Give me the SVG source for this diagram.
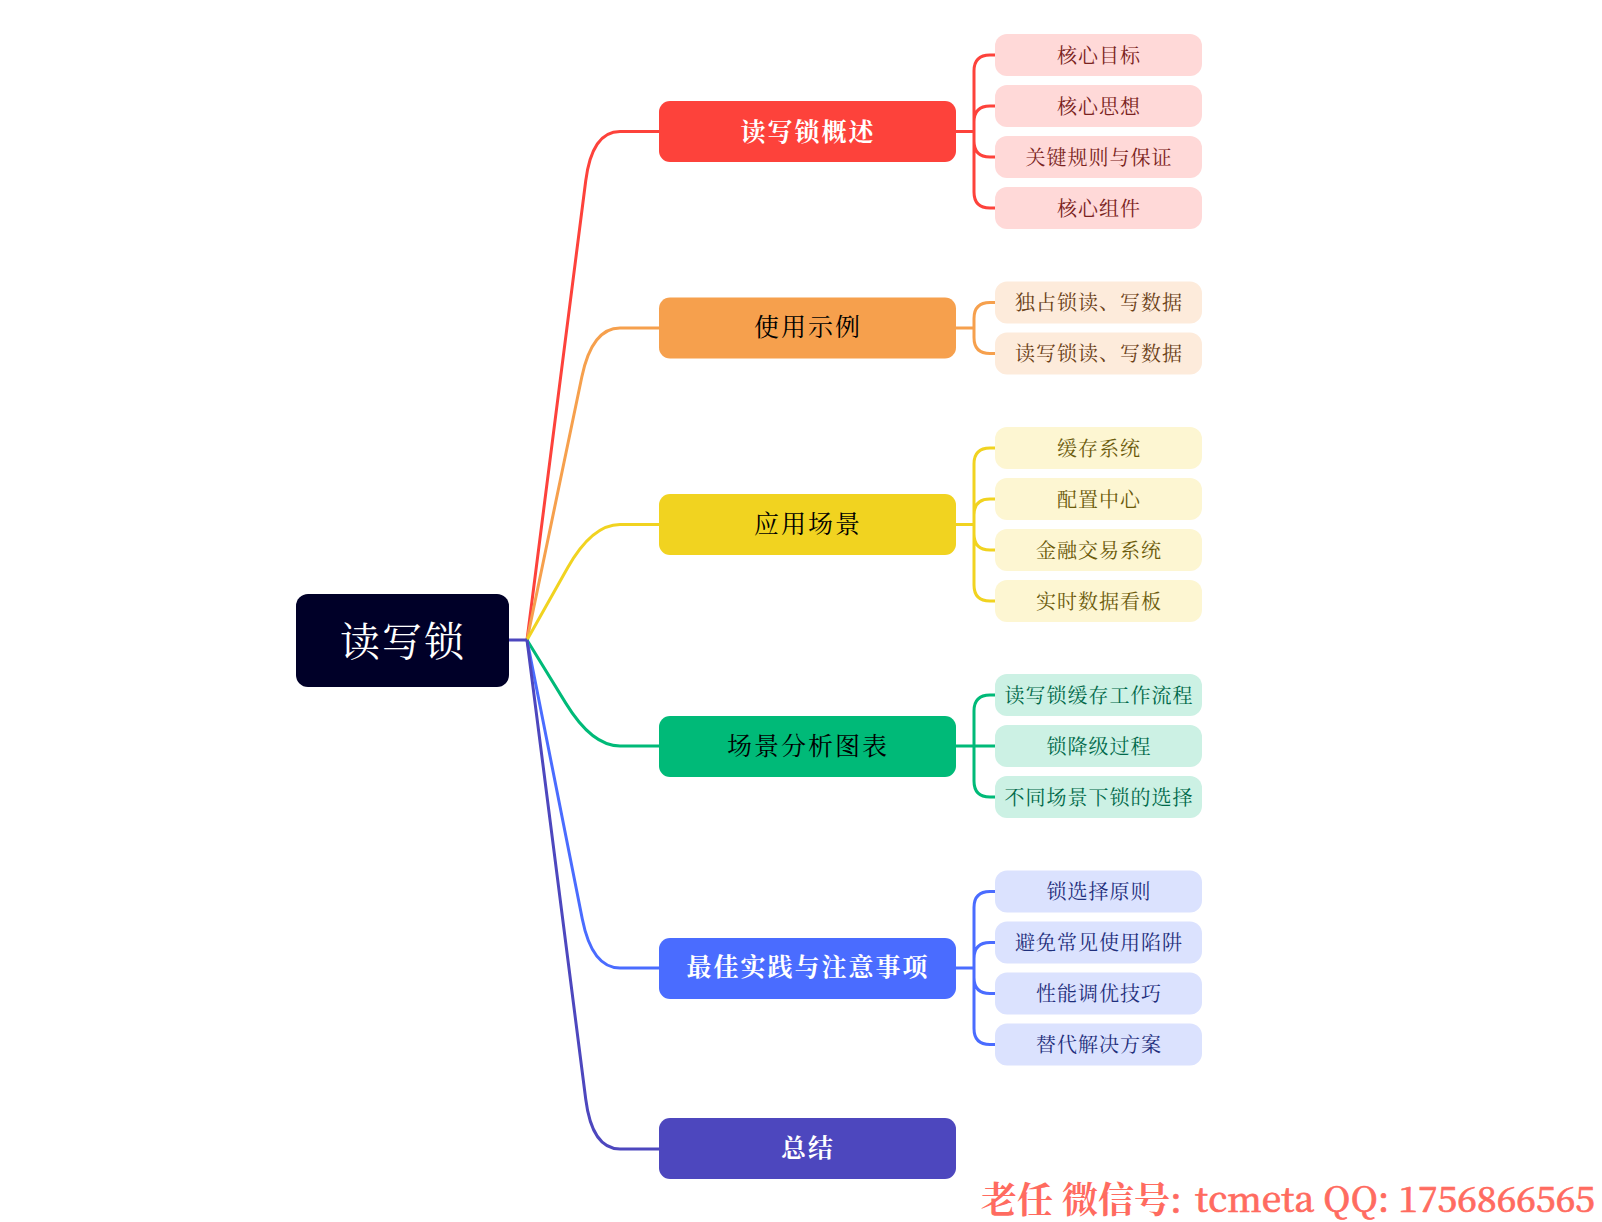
<svg xmlns="http://www.w3.org/2000/svg" width="1602" height="1222" viewBox="0 0 1602 1222">
<style>
text{font-family:"Noto Serif CJK SC","Liberation Serif",serif;text-anchor:middle;dominant-baseline:central}
.c{fill:none;stroke-width:3;stroke-linecap:butt}
.m{font-size:25px;letter-spacing:2px}
.l{font-size:20px;letter-spacing:1px}
.r1{fill:#fd423b}.r2{fill:#f6a04d}.r3{fill:#f1d320}.r4{fill:#00ba78}.r5{fill:#4a6cff}.r6{fill:#4d47be}
.s1{stroke:#fd423b}.s2{stroke:#f6a04d}.s3{stroke:#f1d320}.s4{stroke:#00ba78}.s5{stroke:#4a6cff}.s6{stroke:#4d47be}
.f1{fill:#ffd9d8}.f2{fill:#fdebdb}.f3{fill:#fdf6d2}.f4{fill:#ccf1e4}.f5{fill:#dbe2fe}
.t1{fill:#7a2320}.t2{fill:#6a4016}.t3{fill:#6b5a0a}.t4{fill:#00694a}.t5{fill:#1f2f7c}
.w{fill:#fff;font-weight:bold}.b{fill:#000}
</style>
<rect width="1602" height="1222" fill="#fff"/>
<g id="connectors">
<path class="c s1" d="M527 640L585.700 181Q592 131.500 620 131.500H659"/>
<path class="c s2" d="M527 640L581.800 377Q592 328 620 328H659"/>
<path class="c s3" d="M527 640L567.500 568Q592 524.500 620 524.500H659"/>
<path class="c s4" d="M527 640L565.900 703.400Q592 746 620 746H659"/>
<path class="c s5" d="M527 640L582.300 919Q592 968 620 968H659"/>
<path class="c s6" d="M527 640L585.700 1099Q592 1149 620 1149H659"/>
<path class="c s6" d="M509 640H527"/>
<path class="c s1" d="M956 131.500H974M995 55H990Q974 55 974 71V192Q974 208 990 208H995M995 106H990Q974 106 974 122V141Q974 157 990 157H995"/>
<path class="c s2" d="M956 328H974M995 302.500H990Q974 302.500 974 318.500V337.500Q974 353.500 990 353.500H995"/>
<path class="c s3" d="M956 524.500H974M995 448H990Q974 448 974 464V585Q974 601 990 601H995M995 499H990Q974 499 974 515V534Q974 550 990 550H995"/>
<path class="c s4" d="M956 746H995M995 695H990Q974 695 974 711V781Q974 797 990 797H995"/>
<path class="c s5" d="M956 968H974M995 891.500H990Q974 891.500 974 907.500V1028.500Q974 1044.500 990 1044.500H995M995 942.500H990Q974 942.500 974 958.500V977.500Q974 993.500 990 993.500H995"/>
</g>
<g id="root"><rect x="296" y="594" width="213" height="93" rx="12" fill="#000028"/><text x="403" y="638" font-size="40" letter-spacing="2" fill="#fff">读写锁</text></g>
<g id="n1"><rect class="r1" x="659" y="101" width="297" height="61" rx="11"/><text class="m w" x="808" y="129.500">读写锁概述</text></g>
<g id="n1-1"><rect class="f1" x="995" y="34" width="207" height="42" rx="12"/><text class="l t1" x="1099" y="54.500">核心目标</text></g>
<g id="n1-2"><rect class="f1" x="995" y="85" width="207" height="42" rx="12"/><text class="l t1" x="1099" y="105.500">核心思想</text></g>
<g id="n1-3"><rect class="f1" x="995" y="136" width="207" height="42" rx="12"/><text class="l t1" x="1099" y="156.500">关键规则与保证</text></g>
<g id="n1-4"><rect class="f1" x="995" y="187" width="207" height="42" rx="12"/><text class="l t1" x="1099" y="207.500">核心组件</text></g>
<g id="n2"><rect class="r2" x="659" y="297.500" width="297" height="61" rx="11"/><text class="m b" x="808" y="325">使用示例</text></g>
<g id="n2-1"><rect class="f2" x="995" y="281.500" width="207" height="42" rx="12"/><text class="l t2" x="1099" y="301.500">独占锁读、写数据</text></g>
<g id="n2-2"><rect class="f2" x="995" y="332.500" width="207" height="42" rx="12"/><text class="l t2" x="1099" y="352.500">读写锁读、写数据</text></g>
<g id="n3"><rect class="r3" x="659" y="494" width="297" height="61" rx="11"/><text class="m b" x="808" y="522">应用场景</text></g>
<g id="n3-1"><rect class="f3" x="995" y="427" width="207" height="42" rx="12"/><text class="l t3" x="1099" y="447">缓存系统</text></g>
<g id="n3-2"><rect class="f3" x="995" y="478" width="207" height="42" rx="12"/><text class="l t3" x="1099" y="498">配置中心</text></g>
<g id="n3-3"><rect class="f3" x="995" y="529" width="207" height="42" rx="12"/><text class="l t3" x="1099" y="549">金融交易系统</text></g>
<g id="n3-4"><rect class="f3" x="995" y="580" width="207" height="42" rx="12"/><text class="l t3" x="1099" y="600">实时数据看板</text></g>
<g id="n4"><rect class="r4" x="659" y="716" width="297" height="61" rx="11"/><text class="m b" x="808" y="744">场景分析图表</text></g>
<g id="n4-1"><rect class="f4" x="995" y="674" width="207" height="42" rx="12"/><text class="l t4" x="1099" y="694.500">读写锁缓存工作流程</text></g>
<g id="n4-2"><rect class="f4" x="995" y="725" width="207" height="42" rx="12"/><text class="l t4" x="1099" y="745.500">锁降级过程</text></g>
<g id="n4-3"><rect class="f4" x="995" y="776" width="207" height="42" rx="12"/><text class="l t4" x="1099" y="796.500">不同场景下锁的选择</text></g>
<g id="n5"><rect class="r5" x="659" y="938" width="297" height="61" rx="11"/><text class="m w" x="808" y="964.500">最佳实践与注意事项</text></g>
<g id="n5-1"><rect class="f5" x="995" y="870.500" width="207" height="42" rx="12"/><text class="l t5" x="1099" y="890.500">锁选择原则</text></g>
<g id="n5-2"><rect class="f5" x="995" y="921.500" width="207" height="42" rx="12"/><text class="l t5" x="1099" y="941.500">避免常见使用陷阱</text></g>
<g id="n5-3"><rect class="f5" x="995" y="972.500" width="207" height="42" rx="12"/><text class="l t5" x="1099" y="992.500">性能调优技巧</text></g>
<g id="n5-4"><rect class="f5" x="995" y="1023.500" width="207" height="42" rx="12"/><text class="l t5" x="1099" y="1043.500">替代解决方案</text></g>
<g id="n6"><rect class="r6" x="659" y="1118" width="297" height="61" rx="11"/><text class="m w" x="808" y="1146">总结</text></g>
<text id="watermark" x="981" y="1197" font-size="36" font-weight="bold" fill="#ff6b60" style="text-anchor:start">老任 微信号<tspan font-weight="500" stroke="#ff6b60" stroke-width="0.7">: </tspan><tspan x="1195" font-weight="500" font-size="35.100" stroke="#ff6b60" stroke-width="0.7">tcmeta QQ: 1756866565</tspan></text>
</svg>
